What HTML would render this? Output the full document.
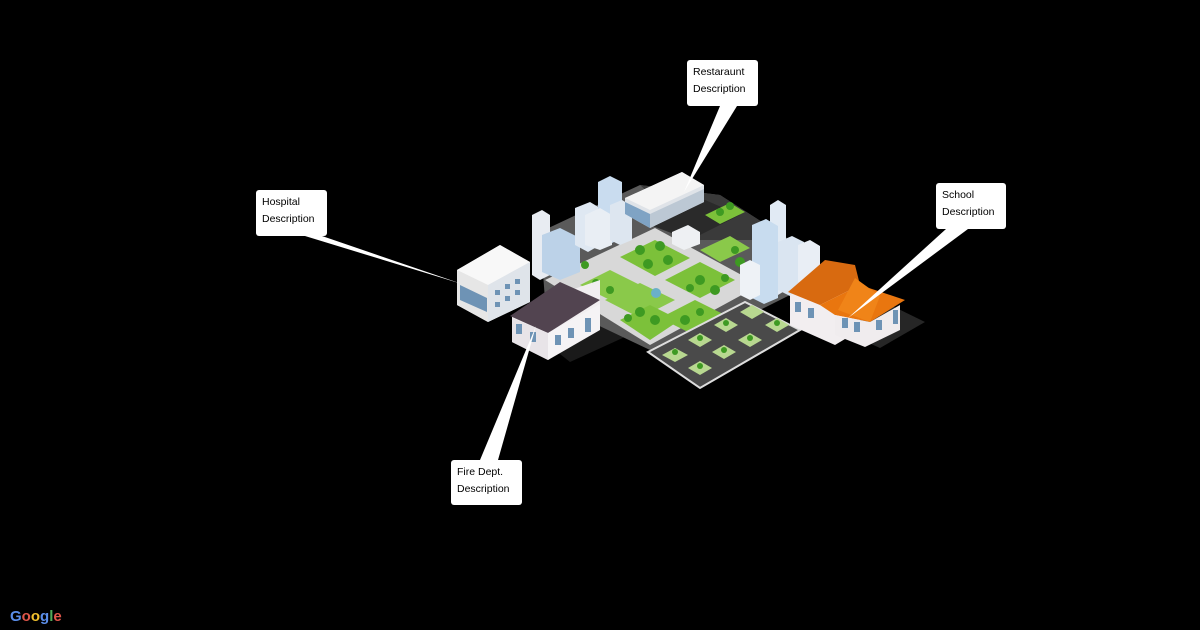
<!DOCTYPE html>
<html><head><meta charset="utf-8"><style>
html,body{margin:0;padding:0;background:#000;width:1200px;height:630px;overflow:hidden}
.lb{position:absolute;background:#fff;border-radius:3px;font:10.5px/17px "Liberation Sans","DejaVu Sans",sans-serif;color:#000;padding:4px 6px;box-sizing:border-box}
</style></head><body>
<svg width="1200" height="630" style="position:absolute;left:0;top:0">
<polygon points="530,330 600,300 640,330 570,362" fill="#1a1a1a"/>
<polygon points="880,300 925,322 880,348 840,330" fill="#262626"/>
<polygon points="540,232 640,185 720,195 790,240 800,290 690,345 650,350 545,300" fill="#5a5a5a"/>
<polygon points="640,185 720,195 790,240 700,240" fill="#3a3a3a"/>
<polygon points="650,225 705,200 740,215 690,240" fill="#2a2a2a"/>
<polygon points="545,280 655,228 760,285 650,345" fill="#d8d8d8"/>
<polygon points="620,257 655,240 690,258 655,276" fill="#7cc13a"/>
<polygon points="665,280 700,262 735,280 700,298" fill="#7cc13a"/>
<polygon points="605,300 640,283 675,300 640,318" fill="#8ac94a"/>
<polygon points="580,285 610,270 640,285 610,300" fill="#8ac94a"/>
<polygon points="660,318 695,300 725,315 690,333" fill="#7cc13a"/>
<polygon points="620,320 650,305 680,320 650,340" fill="#7cc13a"/>
<polygon points="700,250 730,236 750,248 720,262" fill="#8ac94a"/>
<polygon points="705,215 730,203 745,212 720,224" fill="#7cc13a"/>
<g fill="#3e9a22">
<circle cx="640" cy="250" r="5"/><circle cx="660" cy="246" r="5"/><circle cx="668" cy="260" r="5"/><circle cx="648" cy="264" r="5"/>
<circle cx="700" cy="280" r="5"/><circle cx="715" cy="290" r="5"/><circle cx="690" cy="288" r="4"/><circle cx="725" cy="278" r="4"/>
<circle cx="640" cy="312" r="5"/><circle cx="655" cy="320" r="5"/><circle cx="628" cy="318" r="4"/>
<circle cx="596" cy="283" r="4"/><circle cx="610" cy="290" r="4"/><circle cx="685" cy="320" r="5"/><circle cx="700" cy="312" r="4"/>
<circle cx="720" cy="212" r="4"/><circle cx="730" cy="206" r="4"/><circle cx="740" cy="262" r="5"/><circle cx="735" cy="250" r="4"/>
<circle cx="560" cy="290" r="4"/><circle cx="585" cy="265" r="4"/>
</g>
<circle cx="656" cy="293" r="5" fill="#6ab0c8"/>
<polygon points="648,352 745,302 800,330 700,388" fill="#4a4a4a" stroke="#ddd" stroke-width="2"/>
<g fill="#b8d890">
<polygon points="662,355 675,348 688,355 675,362"/><polygon points="688,368 700,361 712,368 700,375"/>
<polygon points="688,340 700,333 712,340 700,347"/><polygon points="712,352 724,345 736,352 724,359"/>
<polygon points="738,340 750,333 762,340 750,347"/><polygon points="765,325 777,318 789,325 777,332"/>
<polygon points="714,325 726,318 738,325 726,332"/><polygon points="740,312 752,305 764,312 752,319"/>
</g>
<g fill="#3e9a22"><circle cx="675" cy="352" r="3"/><circle cx="700" cy="366" r="3"/><circle cx="700" cy="338" r="3"/><circle cx="724" cy="350" r="3"/><circle cx="750" cy="338" r="3"/><circle cx="777" cy="323" r="3"/><circle cx="726" cy="323" r="3"/></g>
<g>
<polygon points="532,215 542,210 550,215 550,275 540,280 532,275" fill="#e8ecf2"/>
<polygon points="542,235 560,228 580,238 580,272 560,280 542,272" fill="#bcd2e8"/>
<polygon points="575,208 590,202 600,208 600,245 588,252 575,245" fill="#dfe8f2"/>
<polygon points="598,182 610,176 622,182 622,238 610,244 598,238" fill="#c9dcef"/>
<polygon points="585,215 600,208 612,215 612,245 600,250 585,245" fill="#e9eef4"/>
<polygon points="610,205 622,200 632,206 632,240 620,245 610,240" fill="#dde6f0"/>
</g>
<polygon points="625,198 682,172 704,185 704,202 650,228 625,214" fill="#dfe3e8"/>
<polygon points="625,198 682,172 704,185 650,210" fill="#f4f4f4"/>
<polygon points="625,202 650,214 650,228 625,214" fill="#7fa3c4"/>
<polygon points="650,214 704,189 704,202 650,228" fill="#bcc8d4"/>
<polygon points="672,232 688,225 700,232 700,244 684,250 672,244" fill="#eef0f3"/>
<g>
<polygon points="770,205 778,200 786,205 786,290 778,295 770,290" fill="#e1eaf4"/>
<polygon points="752,225 766,219 778,226 778,298 764,304 752,298" fill="#c8dcef"/>
<polygon points="778,242 792,236 804,242 804,290 790,296 778,290" fill="#dae5f1"/>
<polygon points="798,245 810,240 820,246 820,282 808,288 798,282" fill="#e9eef5"/>
<polygon points="740,265 750,260 760,265 760,295 750,300 740,295" fill="#eef2f6"/>
</g>
<polygon points="457,270 500,245 530,262 530,302 488,322 457,305" fill="#f0f0f0"/>
<polygon points="457,270 500,245 530,262 488,285" fill="#f8f8f8"/>
<polygon points="457,270 488,285 488,322 457,305" fill="#e6e6e6"/>
<polygon points="460,285 487,298 487,312 460,300" fill="#6e93b5"/>
<polygon points="488,285 530,262 530,302 488,322" fill="#dfe4ea"/>
<g fill="#6e93b5"><rect x="495" y="290" width="5" height="5"/><rect x="505" y="284" width="5" height="5"/><rect x="515" y="279" width="5" height="5"/><rect x="495" y="302" width="5" height="5"/><rect x="505" y="296" width="5" height="5"/><rect x="515" y="290" width="5" height="5"/></g>
<polygon points="512,317 548,298 600,280 600,322 548,360 512,342" fill="#f1eef0"/>
<polygon points="510,316 560,282 600,300 548,333" fill="#524450"/>
<polygon points="512,318 548,333 548,360 512,342" fill="#e8e4e8"/>
<polygon points="548,333 600,304 600,330 548,360" fill="#f5f3f5"/>
<g fill="#6e93b5"><rect x="516" y="324" width="6" height="10"/><rect x="530" y="332" width="6" height="10"/><rect x="555" y="335" width="6" height="10"/><rect x="568" y="328" width="6" height="10"/><rect x="585" y="318" width="6" height="14"/></g>
<polygon points="790,295 835,270 860,285 860,330 835,345 790,325" fill="#f2eef0"/>
<polygon points="788,292 825,260 855,265 860,285 820,305" fill="#d86a10"/>
<polygon points="820,305 860,285 905,300 870,322 835,315" fill="#e9760f"/>
<polygon points="835,315 870,322 900,305 900,330 865,347 835,335" fill="#f0ecee"/>
<polygon points="838,310 855,278 880,296 870,322" fill="#f08418"/>
<g fill="#6e93b5"><rect x="795" y="302" width="6" height="10"/><rect x="808" y="308" width="6" height="10"/><rect x="842" y="318" width="6" height="10"/><rect x="854" y="322" width="6" height="10"/><rect x="876" y="320" width="6" height="10"/><rect x="893" y="310" width="5" height="14"/></g>
<polygon points="305,236 322,236 462,284" fill="#fff"/>
<polygon points="720,106 737,106 684,192" fill="#fff"/>
<polygon points="946,229 968,229 848,318" fill="#fff"/>
<polygon points="480,460 498,460 536,326" fill="#fff"/>
<text x="10" y="621" font-family="Liberation Sans,sans-serif" font-size="15" font-weight="bold"><tspan fill="#5b8de8">G</tspan><tspan fill="#e0564a">o</tspan><tspan fill="#f2c12e">o</tspan><tspan fill="#5b8de8">g</tspan><tspan fill="#4faa5a">l</tspan><tspan fill="#e0564a">e</tspan></text>
</svg>
<div class="lb" style="left:256px;top:190px;width:71px;height:46px">Hospital<br>Description</div>
<div class="lb" style="left:687px;top:60px;width:71px;height:46px">Restaraunt<br>Description</div>
<div class="lb" style="left:936px;top:183px;width:70px;height:46px">School<br>Description</div>
<div class="lb" style="left:451px;top:460px;width:71px;height:45px">Fire Dept.<br>Description</div>
</body></html>
